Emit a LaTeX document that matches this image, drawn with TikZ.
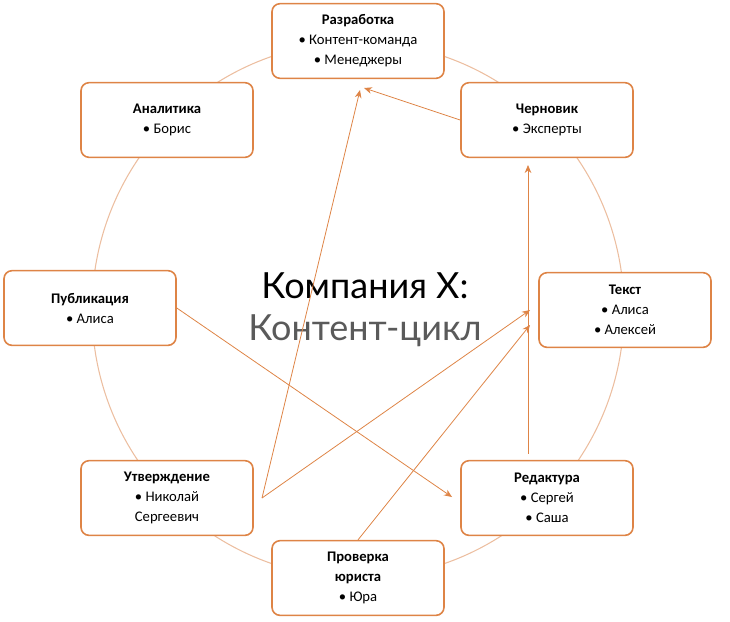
\documentclass[tikz,border=0pt]{standalone}
\usepackage{fontspec}
\setmainfont{Carlito}
\newfontfamily\titlefont{Lato}
\usetikzlibrary{arrows.meta}
\definecolor{cycleorange}{RGB}{222,132,70}
\definecolor{ringorange}{RGB}{236,190,160}
\definecolor{titlegray}{RGB}{90,90,90}
\tikzset{
  stage/.style={draw=cycleorange,line width=1.2pt,rounded corners=6pt,fill=white,
    minimum width=129pt,minimum height=56pt,align=center,font=\fontsize{11}{15}\selectfont},
  flow/.style={draw=cycleorange,line width=0.6pt,-{Stealth[length=6pt,width=5pt]}}
}
\begin{document}
\begin{tikzpicture}[x=0.75pt,y=0.75pt,yscale=-1,xscale=1]
\useasboundingbox (0,0) rectangle (730,621);

%Ring
\draw [ringorange,line width=0.8pt] (358,310) ellipse (266 and 268);

%Stages
\node [stage] (dev) at (358,41) {\textbf{Разработка}\\• Контент-команда\\• Менеджеры};
\node [stage] (anal) at (167,120) {\textbf{Аналитика}\\• Борис};
\node [stage] (draft) at (547,120) {\textbf{Черновик}\\• Эксперты};
\node [stage] (pub) at (90,308) {\textbf{Публикация}\\• Алиса};
\node [stage] (text) at (625,310) {\textbf{Текст}\\• Алиса\\• Алексей};
\node [stage] (appr) at (167,498) {\textbf{Утверждение}\\• Николай\\Сергеевич};
\node [stage] (edit) at (547,498) {\textbf{Редактура}\\• Сергей\\• Саша};
\node [stage] (law) at (358,578) {\textbf{Проверка}\\\textbf{юриста}\\• Юра};

%Title
\node [font=\titlefont\fontsize{27}{30}\selectfont] (title) at (365,286) {Компания X:};
\node [font=\titlefont\fontsize{27}{30}\selectfont,text=titlegray] (subtitle) at (365,331) {Контент-цикл};

%Flows
\coordinate (fork) at (262,498);
\draw [flow] (draft.west) -- (364,88);
\draw [flow] (fork) -- (360,90);
\draw [flow] (fork) -- (530,310);
\draw [flow] (pub.east) -- (452,497);
\draw [flow] (law.north) -- (530,325);
\draw [flow] (edit.north -| 528,0) ++(0,-6) -- (528,165);
\end{tikzpicture}
\end{document}
